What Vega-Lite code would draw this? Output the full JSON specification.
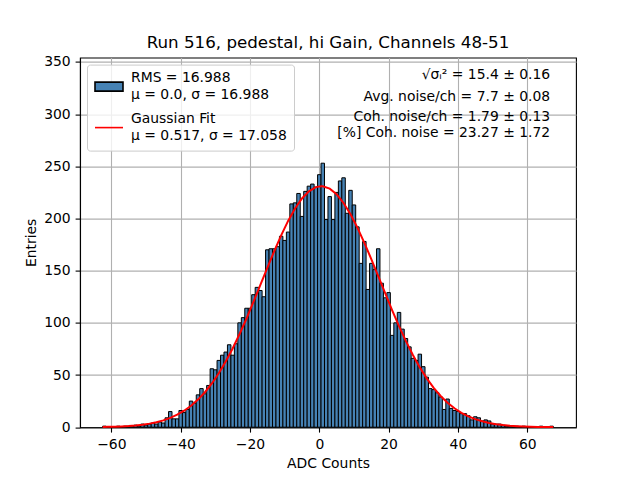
{
  "$schema": "https://vega.github.io/schema/vega-lite/v6.json",
  "width": 496,
  "height": 369.6,
  "autosize": {"type": "none"},
  "padding": {"left": 80, "top": 57.6, "right": 64, "bottom": 52.8},
  "background": "white",
  "title": {
    "text": "Run 516, pedestal, hi Gain, Channels 48-51",
    "font": "DejaVu Sans", "fontSize": 16.7, "fontWeight": "normal", "color": "black", "offset": 3
  },
  "config": {
    "view": {"stroke": "black", "strokeWidth": 1.1},
    "axis": {
      "labelFont": "DejaVu Sans", "labelFontSize": 13.9, "labelColor": "black",
      "titleFont": "DejaVu Sans", "titleFontSize": 13.9, "titleFontWeight": "normal", "titleColor": "black",
      "tickColor": "black", "tickSize": 4.9, "tickWidth": 1.1,
      "domainColor": "black", "domainWidth": 1.1,
      "grid": true, "gridColor": "#b0b0b0", "gridWidth": 1.1,
      "labelPadding": 4.9, "titlePadding": 5.6, "zindex": 1
    },
    "style": {"guide-label": {"lineHeight": 17.3}},
    "text": {"font": "DejaVu Sans", "fontSize": 13.9, "color": "black"}
  },
  "datasets": {
    "bins": [
      {"lo": -62.5, "hi": -61.5, "n": 1}, {"lo": -61.5, "hi": -60.5, "n": 0}, {"lo": -60.5, "hi": -59.5, "n": 0},
      {"lo": -59.5, "hi": -58.5, "n": 0}, {"lo": -58.5, "hi": -57.5, "n": 1}, {"lo": -57.5, "hi": -56.5, "n": 0},
      {"lo": -56.5, "hi": -55.5, "n": 1}, {"lo": -55.5, "hi": -54.5, "n": 1}, {"lo": -54.5, "hi": -53.5, "n": 1},
      {"lo": -53.5, "hi": -52.5, "n": 2}, {"lo": -52.5, "hi": -51.5, "n": 1}, {"lo": -51.5, "hi": -50.5, "n": 3},
      {"lo": -50.5, "hi": -49.5, "n": 2}, {"lo": -49.5, "hi": -48.5, "n": 3}, {"lo": -48.5, "hi": -47.5, "n": 4},
      {"lo": -47.5, "hi": -46.5, "n": 3}, {"lo": -46.5, "hi": -45.5, "n": 5}, {"lo": -45.5, "hi": -44.5, "n": 4},
      {"lo": -44.5, "hi": -43.5, "n": 9}, {"lo": -43.5, "hi": -42.5, "n": 15}, {"lo": -42.5, "hi": -41.5, "n": 8},
      {"lo": -41.5, "hi": -40.5, "n": 8}, {"lo": -40.5, "hi": -39.5, "n": 16}, {"lo": -39.5, "hi": -38.5, "n": 14},
      {"lo": -38.5, "hi": -37.5, "n": 17}, {"lo": -37.5, "hi": -36.5, "n": 25}, {"lo": -36.5, "hi": -35.5, "n": 23},
      {"lo": -35.5, "hi": -34.5, "n": 31}, {"lo": -34.5, "hi": -33.5, "n": 37}, {"lo": -33.5, "hi": -32.5, "n": 32},
      {"lo": -32.5, "hi": -31.5, "n": 40}, {"lo": -31.5, "hi": -30.5, "n": 56}, {"lo": -30.5, "hi": -29.5, "n": 55},
      {"lo": -29.5, "hi": -28.5, "n": 64}, {"lo": -28.5, "hi": -27.5, "n": 69}, {"lo": -27.5, "hi": -26.5, "n": 72},
      {"lo": -26.5, "hi": -25.5, "n": 79}, {"lo": -25.5, "hi": -24.5, "n": 69}, {"lo": -24.5, "hi": -23.5, "n": 80},
      {"lo": -23.5, "hi": -22.5, "n": 100}, {"lo": -22.5, "hi": -21.5, "n": 105}, {"lo": -21.5, "hi": -20.5, "n": 114},
      {"lo": -20.5, "hi": -19.5, "n": 114}, {"lo": -19.5, "hi": -18.5, "n": 127}, {"lo": -18.5, "hi": -17.5, "n": 134},
      {"lo": -17.5, "hi": -16.5, "n": 131}, {"lo": -16.5, "hi": -15.5, "n": 125}, {"lo": -15.5, "hi": -14.5, "n": 170},
      {"lo": -14.5, "hi": -13.5, "n": 171}, {"lo": -13.5, "hi": -12.5, "n": 171}, {"lo": -12.5, "hi": -11.5, "n": 173},
      {"lo": -11.5, "hi": -10.5, "n": 183}, {"lo": -10.5, "hi": -9.5, "n": 179}, {"lo": -9.5, "hi": -8.5, "n": 187},
      {"lo": -8.5, "hi": -7.5, "n": 214}, {"lo": -7.5, "hi": -6.5, "n": 215}, {"lo": -6.5, "hi": -5.5, "n": 224},
      {"lo": -5.5, "hi": -4.5, "n": 202}, {"lo": -4.5, "hi": -3.5, "n": 226}, {"lo": -3.5, "hi": -2.5, "n": 231},
      {"lo": -2.5, "hi": -1.5, "n": 233}, {"lo": -1.5, "hi": -0.5, "n": 230}, {"lo": -0.5, "hi": 0.5, "n": 242},
      {"lo": 0.5, "hi": 1.5, "n": 253}, {"lo": 1.5, "hi": 2.5, "n": 199}, {"lo": 2.5, "hi": 3.5, "n": 221},
      {"lo": 3.5, "hi": 4.5, "n": 199}, {"lo": 4.5, "hi": 5.5, "n": 225}, {"lo": 5.5, "hi": 6.5, "n": 236},
      {"lo": 6.5, "hi": 7.5, "n": 239}, {"lo": 7.5, "hi": 8.5, "n": 205}, {"lo": 8.5, "hi": 9.5, "n": 227},
      {"lo": 9.5, "hi": 10.5, "n": 213}, {"lo": 10.5, "hi": 11.5, "n": 192}, {"lo": 11.5, "hi": 12.5, "n": 157},
      {"lo": 12.5, "hi": 13.5, "n": 178}, {"lo": 13.5, "hi": 14.5, "n": 132}, {"lo": 14.5, "hi": 15.5, "n": 157},
      {"lo": 15.5, "hi": 16.5, "n": 151}, {"lo": 16.5, "hi": 17.5, "n": 171}, {"lo": 17.5, "hi": 18.5, "n": 138},
      {"lo": 18.5, "hi": 19.5, "n": 124}, {"lo": 19.5, "hi": 20.5, "n": 129}, {"lo": 20.5, "hi": 21.5, "n": 88},
      {"lo": 21.5, "hi": 22.5, "n": 100}, {"lo": 22.5, "hi": 23.5, "n": 110}, {"lo": 23.5, "hi": 24.5, "n": 94},
      {"lo": 24.5, "hi": 25.5, "n": 85}, {"lo": 25.5, "hi": 26.5, "n": 77}, {"lo": 26.5, "hi": 27.5, "n": 66},
      {"lo": 27.5, "hi": 28.5, "n": 64}, {"lo": 28.5, "hi": 29.5, "n": 70}, {"lo": 29.5, "hi": 30.5, "n": 58},
      {"lo": 30.5, "hi": 31.5, "n": 48}, {"lo": 31.5, "hi": 32.5, "n": 37}, {"lo": 32.5, "hi": 33.5, "n": 36},
      {"lo": 33.5, "hi": 34.5, "n": 33}, {"lo": 34.5, "hi": 35.5, "n": 29}, {"lo": 35.5, "hi": 36.5, "n": 17},
      {"lo": 36.5, "hi": 37.5, "n": 27}, {"lo": 37.5, "hi": 38.5, "n": 18}, {"lo": 38.5, "hi": 39.5, "n": 16},
      {"lo": 39.5, "hi": 40.5, "n": 15}, {"lo": 40.5, "hi": 41.5, "n": 13}, {"lo": 41.5, "hi": 42.5, "n": 13},
      {"lo": 42.5, "hi": 43.5, "n": 11}, {"lo": 43.5, "hi": 44.5, "n": 7}, {"lo": 44.5, "hi": 45.5, "n": 10},
      {"lo": 45.5, "hi": 46.5, "n": 9}, {"lo": 46.5, "hi": 47.5, "n": 6}, {"lo": 47.5, "hi": 48.5, "n": 7},
      {"lo": 48.5, "hi": 49.5, "n": 6}, {"lo": 49.5, "hi": 50.5, "n": 3}, {"lo": 50.5, "hi": 51.5, "n": 3},
      {"lo": 51.5, "hi": 52.5, "n": 3}, {"lo": 52.5, "hi": 53.5, "n": 2}, {"lo": 53.5, "hi": 54.5, "n": 1},
      {"lo": 54.5, "hi": 55.5, "n": 1}, {"lo": 55.5, "hi": 56.5, "n": 1}, {"lo": 56.5, "hi": 57.5, "n": 1},
      {"lo": 57.5, "hi": 58.5, "n": 0}, {"lo": 58.5, "hi": 59.5, "n": 1}, {"lo": 59.5, "hi": 60.5, "n": 0},
      {"lo": 60.5, "hi": 61.5, "n": 0}, {"lo": 61.5, "hi": 62.5, "n": 0}, {"lo": 62.5, "hi": 63.5, "n": 0},
      {"lo": 63.5, "hi": 64.5, "n": 1}, {"lo": 64.5, "hi": 65.5, "n": 0}, {"lo": 65.5, "hi": 66.5, "n": 0},
      {"lo": 66.5, "hi": 67.5, "n": 1}
    ],
    "fit": [
      {"adc": -62.5, "g": 0.25}, {"adc": -61, "g": 0.35}, {"adc": -59, "g": 0.53}, {"adc": -57, "g": 0.79},
      {"adc": -55, "g": 1.16}, {"adc": -53, "g": 1.68}, {"adc": -51, "g": 2.41}, {"adc": -49, "g": 3.42},
      {"adc": -47, "g": 4.77}, {"adc": -45, "g": 6.57}, {"adc": -43, "g": 8.92}, {"adc": -41, "g": 11.95},
      {"adc": -39, "g": 15.79}, {"adc": -37, "g": 20.57}, {"adc": -35, "g": 26.43}, {"adc": -33, "g": 33.52},
      {"adc": -31, "g": 41.9}, {"adc": -29, "g": 51.7}, {"adc": -27, "g": 62.9}, {"adc": -25, "g": 75.4},
      {"adc": -23, "g": 89.3}, {"adc": -21, "g": 104.2}, {"adc": -19, "g": 120.0}, {"adc": -17, "g": 136.3},
      {"adc": -15, "g": 152.7}, {"adc": -13, "g": 168.7}, {"adc": -11, "g": 183.9}, {"adc": -9, "g": 197.7},
      {"adc": -7, "g": 209.6}, {"adc": -5, "g": 219.2}, {"adc": -3, "g": 226.1}, {"adc": -1, "g": 230.1},
      {"adc": 0.517, "g": 231.0}, {"adc": 1, "g": 230.9}, {"adc": 3, "g": 228.6}, {"adc": 5, "g": 223.2},
      {"adc": 7, "g": 214.9}, {"adc": 9, "g": 204.1}, {"adc": 11, "g": 191.3}, {"adc": 13, "g": 176.7},
      {"adc": 15, "g": 161.1}, {"adc": 17, "g": 144.8}, {"adc": 19, "g": 128.4}, {"adc": 21, "g": 112.3},
      {"adc": 23, "g": 96.9}, {"adc": 25, "g": 82.5}, {"adc": 27, "g": 69.2}, {"adc": 29, "g": 57.3},
      {"adc": 31, "g": 46.8}, {"adc": 33, "g": 37.7}, {"adc": 35, "g": 29.9}, {"adc": 37, "g": 23.5},
      {"adc": 39, "g": 18.1}, {"adc": 41, "g": 13.8}, {"adc": 43, "g": 10.4}, {"adc": 45, "g": 7.71},
      {"adc": 47, "g": 5.64}, {"adc": 49, "g": 4.07}, {"adc": 51, "g": 2.89}, {"adc": 53, "g": 2.03},
      {"adc": 55, "g": 1.41}, {"adc": 57, "g": 0.96}, {"adc": 59, "g": 0.65}, {"adc": 61, "g": 0.43},
      {"adc": 63, "g": 0.28}, {"adc": 65, "g": 0.18}, {"adc": 67.5, "g": 0.1}
    ]
  },
  "layer": [
    {
      "data": {"name": "bins"},
      "mark": {"type": "rect", "stroke": "black", "strokeWidth": 1},
      "encoding": {
        "x": {"field": "lo", "type": "quantitative", "title": "ADC Counts",
              "scale": {"domain": [-69.04, 74.06], "nice": false, "zero": false},
              "axis": {"values": [-60, -40, -20, 0, 20, 40, 60]}},
        "x2": {"field": "hi"},
        "y": {"field": "n", "type": "quantitative", "title": "Entries",
              "scale": {"domain": [0, 354.2], "nice": false},
              "axis": {"values": [0, 50, 100, 150, 200, 250, 300, 350]}},
        "y2": {"datum": 0},
        "color": {
          "datum": "bar",
          "scale": {"domain": ["bar", "fit"], "range": ["#4682b4", "red"]},
          "legend": {
            "orient": "top-left", "offset": 7, "title": null, "zindex": 2,
            "padding": 7, "cornerRadius": 3,
            "strokeColor": "#cccccc", "fillColor": "rgba(255,255,255,0.8)",
            "labelFont": "DejaVu Sans", "labelFontSize": 13.9, "labelColor": "black",
            "labelBaseline": "line-bottom",
            "labelLimit": 400, "labelOffset": 7, "rowPadding": 9, "symbolSize": 784,
            "symbolType": {"expr": "datum.value == 'bar' ? 'M-1,-0.32H1V0.32H-1Z' : 'stroke'"},
            "symbolStrokeColor": {"expr": "datum.value == 'bar' ? 'black' : 'red'"},
            "symbolStrokeWidth": 1.6,
            "symbolOpacity": 1,
            "labelExpr": "datum.value == 'bar' ? ['RMS = 16.988', 'μ = 0.0, σ = 16.988'] : ['Gaussian Fit', 'μ = 0.517, σ = 17.058']"
          }
        }
      }
    },
    {
      "data": {"name": "fit"},
      "mark": {"type": "line", "color": "red", "strokeWidth": 2},
      "encoding": {
        "x": {"field": "adc", "type": "quantitative", "title": "ADC Counts",
              "scale": {"domain": [-69.04, 74.06], "nice": false, "zero": false}},
        "y": {"field": "g", "type": "quantitative", "title": "Entries",
              "scale": {"domain": [0, 354.2], "nice": false}}
      }
    },
    {
      "data": {"values": [{"note": "√σᵢ² = 15.4 ± 0.16"}]},
      "mark": {"type": "text", "align": "right", "baseline": "middle"},
      "encoding": {
        "x": {"datum": 66.6, "type": "quantitative", "title": "ADC Counts"},
        "y": {"datum": 337.5, "type": "quantitative", "title": "Entries"},
        "text": {"field": "note"}
      }
    },
    {
      "data": {"values": [{"note": "Avg. noise/ch = 7.7 ± 0.08"}]},
      "mark": {"type": "text", "align": "right", "baseline": "middle"},
      "encoding": {
        "x": {"datum": 66.6, "type": "quantitative", "title": "ADC Counts"},
        "y": {"datum": 316.7, "type": "quantitative", "title": "Entries"},
        "text": {"field": "note"}
      }
    },
    {
      "data": {"values": [{"note": "Coh. noise/ch = 1.79 ± 0.13"}]},
      "mark": {"type": "text", "align": "right", "baseline": "middle"},
      "encoding": {
        "x": {"datum": 66.6, "type": "quantitative", "title": "ADC Counts"},
        "y": {"datum": 297.6, "type": "quantitative", "title": "Entries"},
        "text": {"field": "note"}
      }
    },
    {
      "data": {"values": [{"note": "[%] Coh. noise = 23.27 ± 1.72"}]},
      "mark": {"type": "text", "align": "right", "baseline": "middle"},
      "encoding": {
        "x": {"datum": 66.6, "type": "quantitative", "title": "ADC Counts"},
        "y": {"datum": 281.6, "type": "quantitative", "title": "Entries"},
        "text": {"field": "note"}
      }
    }
  ]
}
